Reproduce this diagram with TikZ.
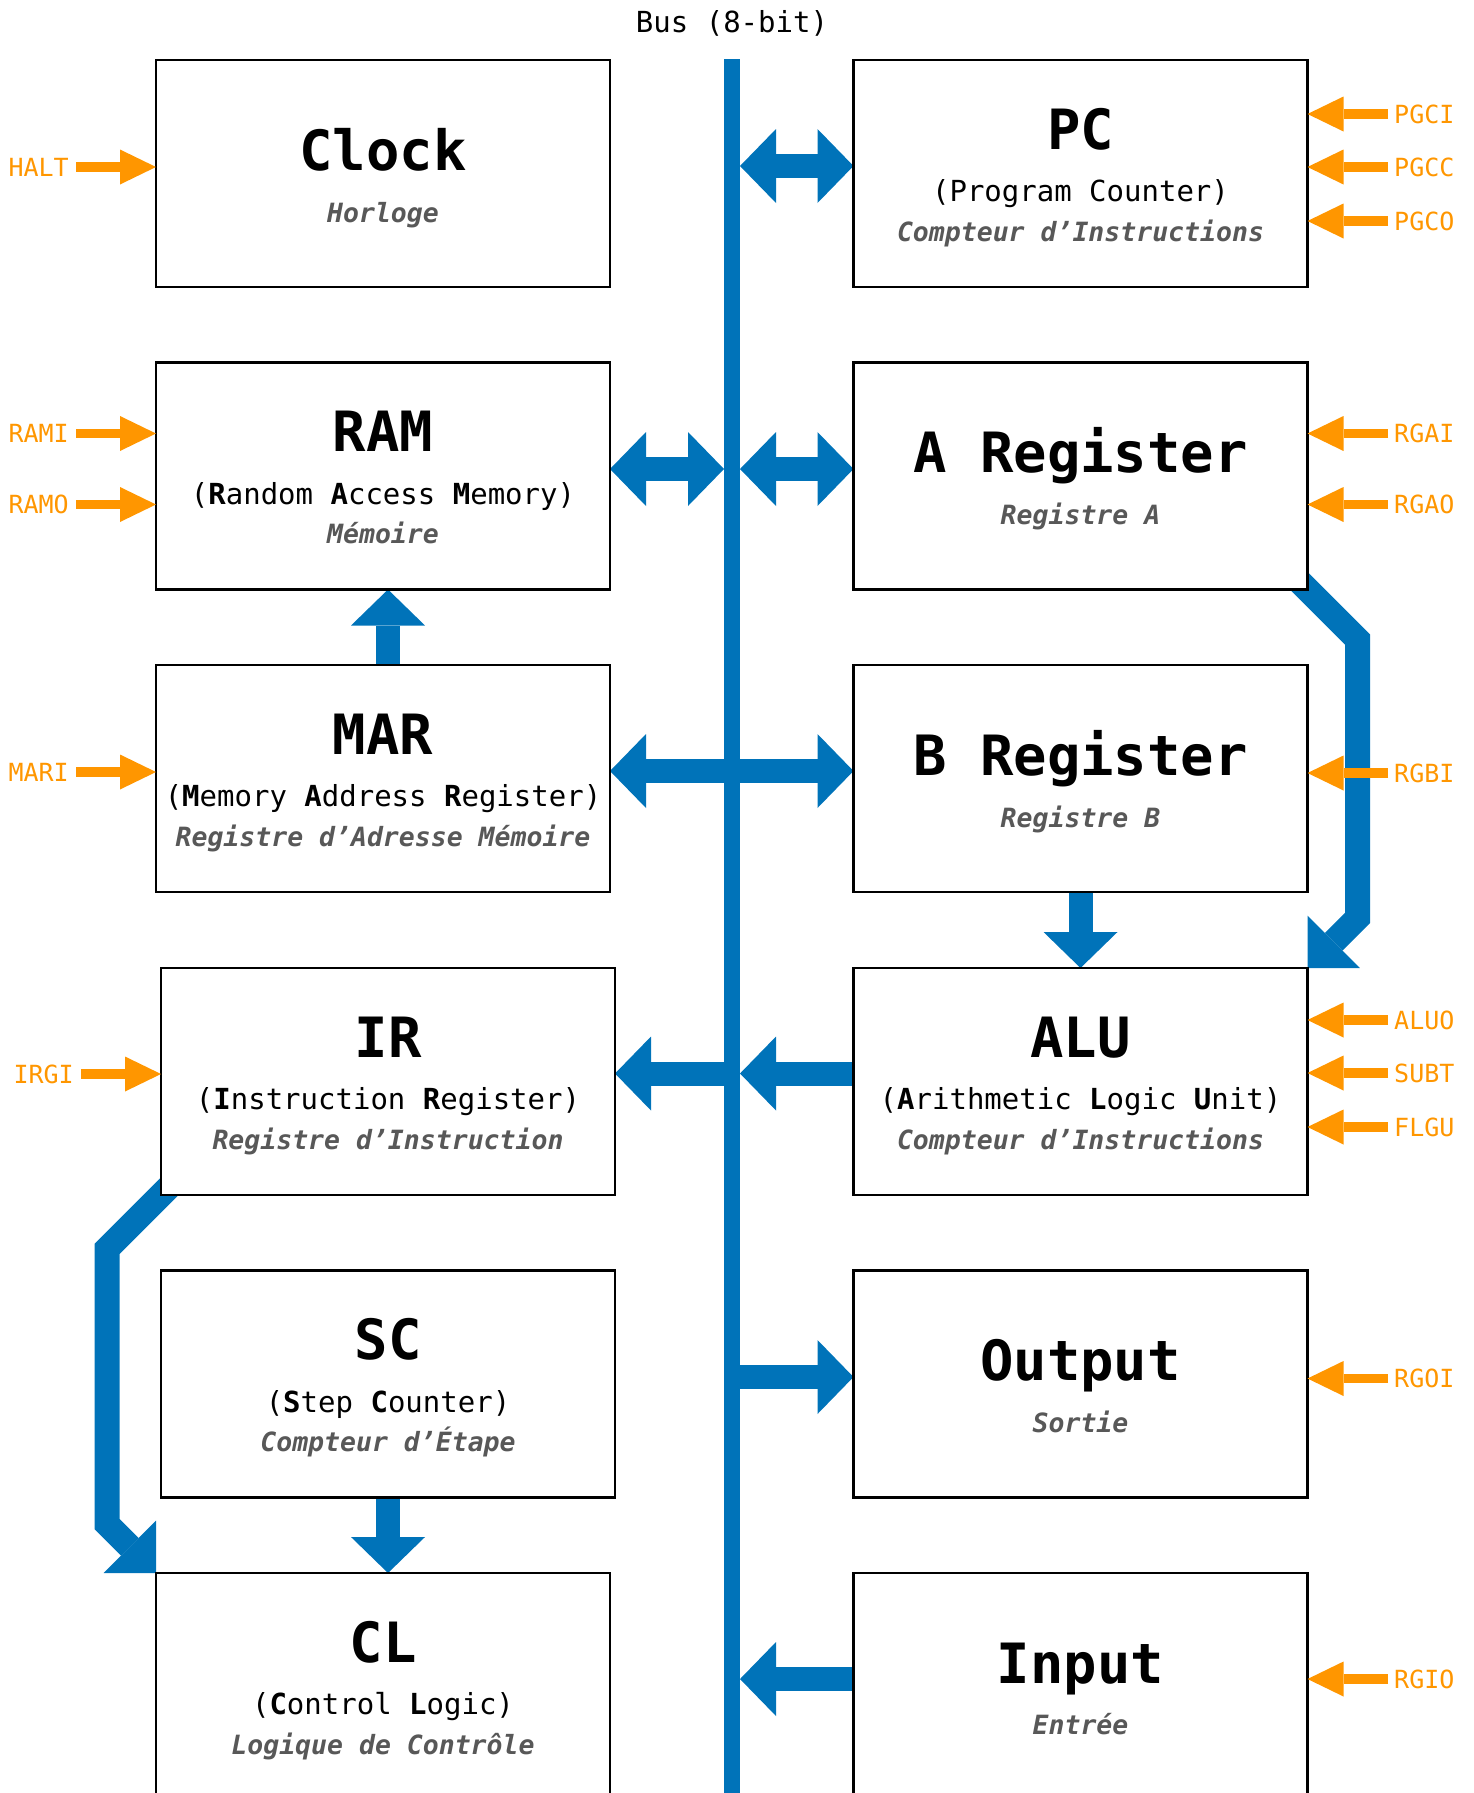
\documentclass[tikz,border=0pt]{standalone}
\usepackage{fontspec}
\newfontfamily\dvm{DejaVu Sans Mono}
\usetikzlibrary{arrows.meta,calc}
\definecolor{busblue}{RGB}{0,115,185}
\definecolor{sigorange}{RGB}{255,150,0}
\definecolor{frgray}{RGB}{88,88,88}
\pgfdeclarelayer{bg}
\pgfsetlayers{bg,main}
\begin{document}
\begin{tikzpicture}[x=1pt,y=-1pt,
  box/.style={draw=black, line width=2.5pt, fill=white, minimum width=454pt, minimum height=227pt, inner sep=0pt, outer sep=0pt, anchor=north},
  titleline/.style={anchor=base, inner sep=0pt, font=\dvm\bfseries\fontsize{55.5}{60}\selectfont},
  subline/.style={anchor=base, inner sep=0pt, font=\dvm\fontsize{29}{32}\selectfont},
  frline/.style={anchor=base, inner sep=0pt, text=frgray, font=\dvm\bfseries\itshape\fontsize{26.5}{30}\selectfont},
  sigL/.style={anchor=east, inner sep=0pt, text=sigorange, font=\dvm\fontsize{25}{28}\selectfont},
  sigR/.style={anchor=west, inner sep=0pt, text=sigorange, font=\dvm\fontsize{25}{28}\selectfont},
  sigarrow/.style={draw=sigorange, line width=9.5pt, -{Triangle[length=36pt,width=35pt,line width=0pt]}},
  bigarrow/.style={draw=busblue, line width=24pt, -{Triangle[length=36pt,width=74pt,line width=0pt]}},
  bendarrow/.style={draw=busblue, line width=25pt, -{Triangle[length=37pt,width=74pt,line width=0pt]}},
  bigdouble/.style={draw=busblue, line width=24pt, {Triangle[length=36pt,width=74pt,line width=0pt]}-{Triangle[length=36pt,width=74pt,line width=0pt]}},
  busline/.style={fill=busblue, minimum width=16pt, minimum height=1734pt, inner sep=0pt, outer sep=0pt, anchor=north},
]
\useasboundingbox (0,0) rectangle (1474,1793);

% bus
\node[busline] (bus) at (732,59) {};
\node[subline] (buslabel) at (732,33) {Bus (8-bit)};

% boxes
\node[box] (clock) at (383,60) {};
\node[box] (pc) at (1080.5,60) {};
\node[box] (ram) at (383,362.5) {};
\node[box] (areg) at (1080.5,362.5) {};
\node[box] (mar) at (383,665) {};
\node[box] (breg) at (1080.5,665) {};
\node[box] (ir) at (388,968) {};
\node[box] (alu) at (1080.5,968) {};
\node[box] (sc) at (388,1270.5) {};
\node[box] (out) at (1080.5,1270.5) {};
\node[box] (cl) at (383,1573) {};
\node[box] (inp) at (1080.5,1573) {};

% texts
\node[titleline] (clockT) at ($(clock.north)+(0,110)$) {Clock};
\node[frline] (clockF) at ($(clock.north)+(0,162)$) {Horloge};

\node[titleline] (pcT) at ($(pc.north)+(0,89)$) {PC};
\node[subline] (pcS) at ($(pc.north)+(0,141.5)$) {(Program Counter)};
\node[frline] (pcF) at ($(pc.north)+(0,181)$) {Compteur d’Instructions};

\node[titleline] (ramT) at ($(ram.north)+(0,89)$) {RAM};
\node[subline] (ramS) at ($(ram.north)+(0,141.5)$) {(\textbf{R}andom \textbf{A}ccess \textbf{M}emory)};
\node[frline] (ramF) at ($(ram.north)+(0,181)$) {Mémoire};

\node[titleline] (aregT) at ($(areg.north)+(0,110)$) {A Register};
\node[frline] (aregF) at ($(areg.north)+(0,162)$) {Registre A};

\node[titleline] (marT) at ($(mar.north)+(0,89)$) {MAR};
\node[subline] (marS) at ($(mar.north)+(0,141.5)$) {(\textbf{M}emory \textbf{A}ddress \textbf{R}egister)};
\node[frline] (marF) at ($(mar.north)+(0,181)$) {Registre d’Adresse Mémoire};

\node[titleline] (bregT) at ($(breg.north)+(0,110)$) {B Register};
\node[frline] (bregF) at ($(breg.north)+(0,162)$) {Registre B};

\node[titleline] (irT) at ($(ir.north)+(0,89)$) {IR};
\node[subline] (irS) at ($(ir.north)+(0,141.5)$) {(\textbf{I}nstruction \textbf{R}egister)};
\node[frline] (irF) at ($(ir.north)+(0,181)$) {Registre d’Instruction};

\node[titleline] (aluT) at ($(alu.north)+(0,89)$) {ALU};
\node[subline] (aluS) at ($(alu.north)+(0,141.5)$) {(\textbf{A}rithmetic \textbf{L}ogic \textbf{U}nit)};
\node[frline] (aluF) at ($(alu.north)+(0,181)$) {Compteur d’Instructions};

\node[titleline] (scT) at ($(sc.north)+(0,89)$) {SC};
\node[subline] (scS) at ($(sc.north)+(0,141.5)$) {(\textbf{S}tep \textbf{C}ounter)};
\node[frline] (scF) at ($(sc.north)+(0,181)$) {Compteur d’Étape};

\node[titleline] (outT) at ($(out.north)+(0,110)$) {Output};
\node[frline] (outF) at ($(out.north)+(0,162)$) {Sortie};

\node[titleline] (clT) at ($(cl.north)+(0,89)$) {CL};
\node[subline] (clS) at ($(cl.north)+(0,141.5)$) {(\textbf{C}ontrol \textbf{L}ogic)};
\node[frline] (clF) at ($(cl.north)+(0,181)$) {Logique de Contrôle};

\node[titleline] (inpT) at ($(inp.north)+(0,110)$) {Input};
\node[frline] (inpF) at ($(inp.north)+(0,161)$) {Entrée};

% blue connectors behind boxes
\begin{pgfonlayer}{bg}
\coordinate (pcY) at ($(pc.north west)+(0,106)$);
\draw[bigdouble] (pcY -| bus.east) -- (pcY);
\coordinate (ramY) at ($(ram.north east)+(0,106.5)$);
\draw[bigdouble] (ramY) -- (ramY -| bus.west);
\coordinate (aregY) at ($(areg.north west)+(0,106.5)$);
\draw[bigdouble] (aregY -| bus.east) -- (aregY);
\coordinate (marY) at ($(mar.north east)+(0,106)$);
\draw[bigdouble] (marY) -- (marY -| breg.west);
\coordinate (marUp) at ($(mar.north)+(5,0)$);
\draw[bigarrow] (marUp) -- (marUp |- ram.south);
\draw[bigarrow] (breg.south) -- (alu.north);
\coordinate (aluY) at ($(alu.north west)+(0,105.5)$);
\draw[bigarrow] (aluY) -- (aluY -| bus.east);
\draw[bigarrow] (aluY -| bus.west) -- (aluY -| ir.east);
\coordinate (outY) at ($(out.north west)+(0,106.5)$);
\draw[bigarrow] (outY -| bus.east) -- (outY);
\coordinate (scDown) at ($(sc.south)$);
\draw[bigarrow] (scDown) -- (scDown |- cl.north);
\coordinate (inpY) at ($(inp.north west)+(0,106)$);
\draw[bigarrow] (inpY) -- (inpY -| bus.east);
% bent A -> ALU
\coordinate (aStart) at ($(areg.south east)+(-40,-40)$);
\coordinate (aBend1) at ($(areg.south east)+(50,50)$);
\coordinate (aBend2) at ($(alu.north east)+(50,-50)$);
\draw[bendarrow] (aStart) -- (aBend1) -- (aBend2) -- (alu.north east);
% bent IR -> CL
\coordinate (iStart) at ($(ir.south west)+(40,-40)$);
\coordinate (iBend1) at ($(ir.south west)+(-54,54)$);
\coordinate (iBend2) at ($(cl.north west)+(-49,-49)$);
\draw[bendarrow] (iStart) -- (iBend1) -- (iBend2) -- (cl.north west);
\end{pgfonlayer}

% orange control signals, left
\node[sigL] (halt) at ($(clock.north west)+(-87,107)$) {HALT};
\node[sigL] (rami) at ($(ram.north west)+(-87,71)$) {RAMI};
\node[sigL] (ramo) at ($(ram.north west)+(-87,142)$) {RAMO};
\node[sigL] (mari) at ($(mar.north west)+(-87,107)$) {MARI};
\node[sigL] (irgi) at ($(ir.north west)+(-87,106)$) {IRGI};
\foreach \s/\b in {halt/clock,rami/ram,ramo/ram,mari/mar,irgi/ir}
  \draw[sigarrow] ([xshift=7pt]\s.east) -- (\s.east -| \b.west);

% orange control signals, right
\node[sigR] (pgci) at ($(pc.north east)+(86.5,54)$) {PGCI};
\node[sigR] (pgcc) at ($(pc.north east)+(86.5,107)$) {PGCC};
\node[sigR] (pgco) at ($(pc.north east)+(86.5,161)$) {PGCO};
\node[sigR] (rgai) at ($(areg.north east)+(86.5,71)$) {RGAI};
\node[sigR] (rgao) at ($(areg.north east)+(86.5,142)$) {RGAO};
\node[sigR] (rgbi) at ($(breg.north east)+(86.5,108)$) {RGBI};
\node[sigR] (aluo) at ($(alu.north east)+(86.5,52)$) {ALUO};
\node[sigR] (subt) at ($(alu.north east)+(86.5,105)$) {SUBT};
\node[sigR] (flgu) at ($(alu.north east)+(86.5,159)$) {FLGU};
\node[sigR] (rgoi) at ($(out.north east)+(86.5,108)$) {RGOI};
\node[sigR] (rgio) at ($(inp.north east)+(86.5,106)$) {RGIO};
\foreach \s/\b in {pgci/pc,pgcc/pc,pgco/pc,rgai/areg,rgao/areg,rgbi/breg,aluo/alu,subt/alu,flgu/alu,rgoi/out,rgio/inp}
  \draw[sigarrow] ([xshift=-6pt]\s.west) -- (\s.west -| \b.east);
\end{tikzpicture}
\end{document}
